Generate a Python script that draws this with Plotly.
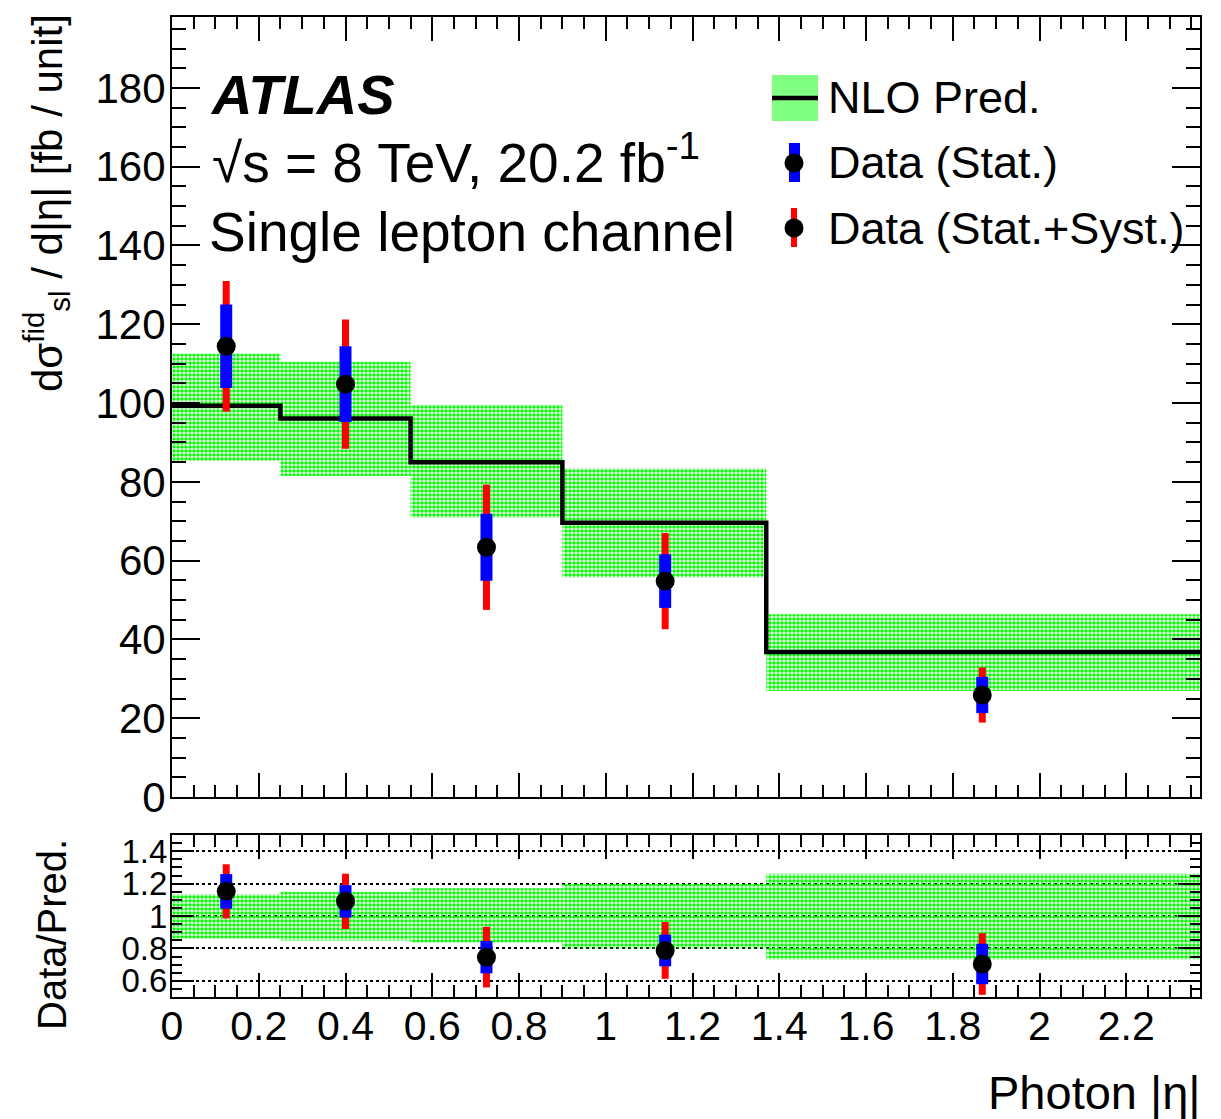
import plotly.graph_objects as go

# ---------------- data ----------------
bin_edges = [0.0, 0.25, 0.55, 0.9, 1.37, 2.37]
pred = [99.3, 96.1, 85.0, 69.6, 36.8]
pred_hi = [112.6, 110.5, 99.6, 83.4, 46.4]
pred_lo = [85.3, 81.5, 70.9, 55.7, 26.9]

data_x = [0.125, 0.40, 0.725, 1.137, 1.868]
data_y = [114.4, 104.8, 63.4, 54.8, 25.9]
data_stat = [10.6, 9.6, 8.5, 6.8, 4.6]
data_tot = [16.6, 16.4, 15.9, 12.2, 7.0]

x_tick_step = 0.2
y_tick_step = 20
ratio_ticks = [0.6, 0.8, 1.0, 1.2, 1.4]

# ---------------- derived ----------------
centers = [(a + b) / 2 for a, b in zip(bin_edges[:-1], bin_edges[1:])]
widths = [b - a for a, b in zip(bin_edges[:-1], bin_edges[1:])]
step_y = pred + [pred[-1]]


def bin_of(x):
    for i in range(len(bin_edges) - 1):
        if bin_edges[i] <= x < bin_edges[i + 1]:
            return i
    return len(bin_edges) - 2


pred_at = [pred[bin_of(x)] for x in data_x]
ratio_y = [d / p for d, p in zip(data_y, pred_at)]
ratio_stat = [s / p for s, p in zip(data_stat, pred_at)]
ratio_tot = [t / p for t, p in zip(data_tot, pred_at)]
ratio_band_lo = [l / p for l, p in zip(pred_lo, pred)]
ratio_band_h = [(h - l) / p for h, l, p in zip(pred_hi, pred_lo, pred)]

FONT = "Liberation Sans, Arial, Helvetica, sans-serif"
GREEN_PAT = dict(shape=".", size=4, solidity=0.6, fgcolor="#00ff00", fillmode="replace")

fig = go.Figure()

# main panel band
fig.add_trace(go.Bar(
    x=centers, y=[h - l for h, l in zip(pred_hi, pred_lo)], base=pred_lo, width=widths,
    marker=dict(color="rgba(0,0,0,0)", line=dict(width=0), pattern=GREEN_PAT),
    xaxis="x", yaxis="y", hoverinfo="skip"))
# step line
fig.add_trace(go.Scatter(
    x=bin_edges, y=step_y, mode="lines", line=dict(color="black", width=4.5, shape="hv"),
    xaxis="x", yaxis="y", hoverinfo="skip"))
# total errors
fig.add_trace(go.Scatter(
    x=data_x, y=data_y, mode="markers", marker=dict(size=1, color="rgba(0,0,0,0)"),
    error_y=dict(type="data", array=data_tot, color="#ff0000", thickness=7, width=0),
    xaxis="x", yaxis="y"))
# stat errors
fig.add_trace(go.Scatter(
    x=data_x, y=data_y, mode="markers", marker=dict(size=1, color="rgba(0,0,0,0)"),
    error_y=dict(type="data", array=data_stat, color="#0000ff", thickness=12, width=0),
    xaxis="x", yaxis="y"))
# markers
fig.add_trace(go.Scatter(
    x=data_x, y=data_y, mode="markers", marker=dict(size=19, color="black"),
    xaxis="x", yaxis="y"))

# ratio panel band
fig.add_trace(go.Bar(
    x=centers, y=ratio_band_h, base=ratio_band_lo, width=widths,
    marker=dict(color="rgba(0,0,0,0)", line=dict(width=0), pattern=GREEN_PAT),
    xaxis="x2", yaxis="y2", hoverinfo="skip"))
fig.add_trace(go.Scatter(
    x=data_x, y=ratio_y, mode="markers", marker=dict(size=1, color="rgba(0,0,0,0)"),
    error_y=dict(type="data", array=ratio_tot, color="#ff0000", thickness=7, width=0),
    xaxis="x2", yaxis="y2"))
fig.add_trace(go.Scatter(
    x=data_x, y=ratio_y, mode="markers", marker=dict(size=1, color="rgba(0,0,0,0)"),
    error_y=dict(type="data", array=ratio_stat, color="#0000ff", thickness=12, width=0),
    xaxis="x2", yaxis="y2"))
fig.add_trace(go.Scatter(
    x=data_x, y=ratio_y, mode="markers", marker=dict(size=19, color="black"),
    xaxis="x2", yaxis="y2"))

# reference-image pixel frame of the plotting area (page has an 8px body margin)
OFF = 8
PAGE_W, PAGE_H = 1221, 1119
L, R, T, B = 172, 1200, 17, 997
W, H = R - L, B - T
FIG_W, FIG_H = PAGE_W - OFF, PAGE_H - OFF


def px(x):
    return (x - L) / W


def py(y):
    return (B - y) / H


axis_common = dict(
    showline=True, linewidth=2, linecolor="black", mirror="allticks",
    ticks="inside", tickwidth=2, tickcolor="black", showgrid=False, zeroline=False,
    tickfont=dict(family=FONT, size=42, color="black"), automargin=False,
)

fig.update_layout(
    width=FIG_W, height=FIG_H,
    margin=dict(l=L - OFF, r=FIG_W - (R - OFF), t=T - OFF, b=FIG_H - (B - OFF)),
    paper_bgcolor="white", plot_bgcolor="white",
    showlegend=False, barmode="overlay",
    font=dict(family=FONT, color="black"),
    xaxis=dict(**axis_common, domain=[0, 1], anchor="y", range=[0, bin_edges[-1]],
               dtick=x_tick_step, tick0=0, ticklen=24, showticklabels=False,
               minor=dict(ticks="inside", ticklen=12, tickwidth=2, tickcolor="black",
                          dtick=0.05, tick0=0, showgrid=False)),
    yaxis=dict(**axis_common, domain=[(B - 797) / H, 1], anchor="x", range=[0, 198],
               dtick=y_tick_step, tick0=0, ticklen=28, ticklabelstandoff=-4,
               minor=dict(ticks="inside", ticklen=14, tickwidth=2, tickcolor="black",
                          dtick=5, tick0=0, showgrid=False)),
    xaxis2=dict(**axis_common, domain=[0, 1], anchor="y2", range=[0, bin_edges[-1]],
                dtick=x_tick_step, tick0=0, ticklen=24, ticklabelstandoff=-8,
                minor=dict(ticks="inside", ticklen=12, tickwidth=2, tickcolor="black",
                           dtick=0.05, tick0=0, showgrid=False)),
    yaxis2=dict(**axis_common, domain=[0, (B - 835) / H], anchor="x2", range=[0.5, 1.5],
                tickmode="array", tickvals=ratio_ticks,
                ticktext=[f"{v:g}" for v in ratio_ticks], ticklen=22, ticklabelstandoff=-4,
                minor=dict(ticks="inside", ticklen=10, tickwidth=2, tickcolor="black",
                           dtick=0.05, tick0=0.5, showgrid=False)),
)
fig.layout.yaxis2.update(showgrid=True, gridcolor="black", gridwidth=1.5, griddash="dot",
                         tickfont=dict(size=33))
fig.layout.xaxis2.update(tickfont=dict(size=41))

ann = []


def add_text(text, x, y, size, xanchor="left", yanchor="middle", angle=0):
    ann.append(dict(text=text, x=px(x), y=py(y), xref="paper", yref="paper",
                    xanchor=xanchor, yanchor=yanchor, showarrow=False, textangle=angle,
                    font=dict(family=FONT, size=size, color="black")))


add_text("<b><i>ATLAS</i></b>", 208, 94, 56)
add_text("√s = 8 TeV, 20.2 fb<sup>-1</sup>", 210, 159, 55)
add_text("Single lepton channel", 207, 232, 55)
add_text("NLO Pred.", 826, 98, 45)
add_text("Data (Stat.)", 826, 162, 45)
add_text("Data (Stat.+Syst.)", 826, 228, 45)
add_text("dσ<sup>fid</sup><sub>sl</sub> / d|η| [fb / unit]", 46, 203, 42,
         xanchor="center", angle=-90)
add_text("Data/Pred.", 52, 935, 40, xanchor="center", angle=-90)
add_text("Photon |η|", 1203, 1092, 47, xanchor="right")
fig.update_layout(annotations=ann)

shapes = [
    dict(type="rect", xref="paper", yref="paper", x0=px(772), x1=px(818), y0=py(121), y1=py(75),
         fillcolor="#80ff80", line=dict(width=0), layer="above"),
    dict(type="line", xref="paper", yref="paper", x0=px(772), x1=px(818), y0=py(98), y1=py(98),
         line=dict(color="black", width=4.5), layer="above"),
    dict(type="rect", xref="paper", yref="paper", x0=px(789), x1=px(800), y0=py(182), y1=py(143),
         fillcolor="#0000ff", line=dict(width=0), layer="above"),
    dict(type="circle", xref="paper", yref="paper", x0=px(784.5), x1=px(803.5), y0=py(172.5),
         y1=py(153.5), fillcolor="black", line=dict(width=0), layer="above"),
    dict(type="rect", xref="paper", yref="paper", x0=px(791), x1=px(797), y0=py(247), y1=py(208),
         fillcolor="#ff0000", line=dict(width=0), layer="above"),
    dict(type="circle", xref="paper", yref="paper", x0=px(784.5), x1=px(803.5), y0=py(237.5),
         y1=py(218.5), fillcolor="black", line=dict(width=0), layer="above"),
]
fig.update_layout(shapes=shapes)

fig.write_html("out.html")
